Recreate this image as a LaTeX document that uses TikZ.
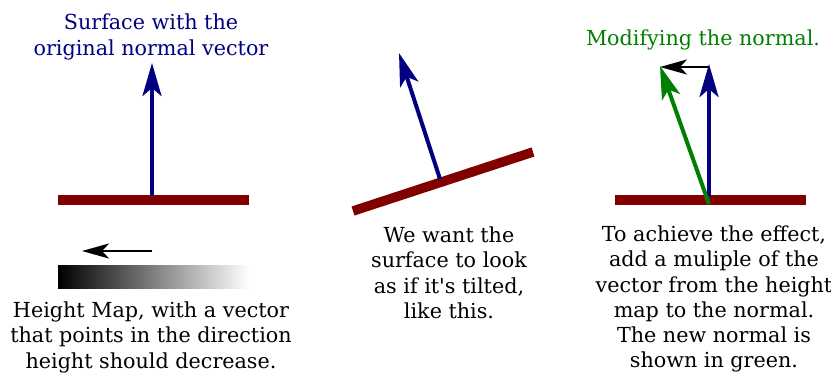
\documentclass[tikz,border=0pt]{standalone}
\usepackage{fontspec}
\setmainfont[Ligatures=TeXOff]{DejaVu Serif}
\usetikzlibrary{arrows.meta}
\definecolor{navyc}{HTML}{000080}
\definecolor{maroonc}{HTML}{800000}
\definecolor{greenc}{HTML}{008000}
\begin{document}
\begin{tikzpicture}[x=1pt,y=-1pt,
  surf/.style={draw=maroonc, line width=9.5pt},
  normalvec/.style={line width=4pt, -{Stealth[length=33pt,width=19pt,inset=8pt]}},
  hvec/.style={draw=black, line width=2.6pt, -{Stealth[length=27pt,width=15pt,inset=7pt]}},
  lbl/.style={inner sep=0pt, align=center, anchor=north, font=\fontsize{20.7}{25.3}\selectfont}
]
\useasboundingbox (0,0) rectangle (831,373);

% ---- left panel ----
\node[lbl, text=navyc, font=\fontsize{20.7}{26}\selectfont] (t1) at (151,13.5) {Surface with the\\original normal vector};
\coordinate (b1l) at (58,200);
\coordinate (b1r) at (249,200);
\draw[surf] (b1l) -- (b1r);
\coordinate (n1s) at (152,195.5);
\coordinate (n1e) at (152,63);
\draw[normalvec, draw=navyc, fill=navyc] (n1s) -- (n1e);
\coordinate (h1s) at (152,251);
\coordinate (h1e) at (82,251);
\draw[hvec] (h1s) -- (h1e);
\shade[left color=black, right color=white] (58,265) rectangle (249,288);
\node[lbl] (t2) at (151,301.5) {Height Map, with a vector\\that points in the direction\\height should decrease.};

% ---- middle panel ----
\coordinate (b2l) at (353,211);
\coordinate (b2r) at (533,152);
\draw[surf] (b2l) -- (b2r);
\coordinate (n2s) at (440,179);
\coordinate (n2e) at (399,53);
\draw[normalvec, draw=navyc, fill=navyc] (n2s) -- (n2e);
\node[lbl] (t3) at (449,226.5) {We want the\\surface to look\\as if it's tilted,\\like this.};

% ---- right panel ----
\node[lbl, text=greenc] (t4) at (703,29.5) {Modifying the normal.};
\coordinate (b3l) at (615,200);
\coordinate (b3r) at (806,200);
\draw[surf] (b3l) -- (b3r);
\coordinate (n3s) at (709,195.5);
\coordinate (n3e) at (709,64);
\draw[normalvec, draw=navyc, fill=navyc] (n3s) -- (n3e);
\coordinate (h3s) at (709,67);
\coordinate (h3e) at (660,67);
\draw[hvec] (h3s) -- (h3e);
\coordinate (g3s) at (709,204);
\coordinate (g3e) at (660,66);
\draw[normalvec, draw=greenc, fill=greenc] (g3s) -- (g3e);
\node[lbl] (t5) at (714,225.5) {To achieve the effect,\\add a muliple of the\\vector from the height\\map to the normal.\\The new normal is\\shown in green.};
\end{tikzpicture}
\end{document}
